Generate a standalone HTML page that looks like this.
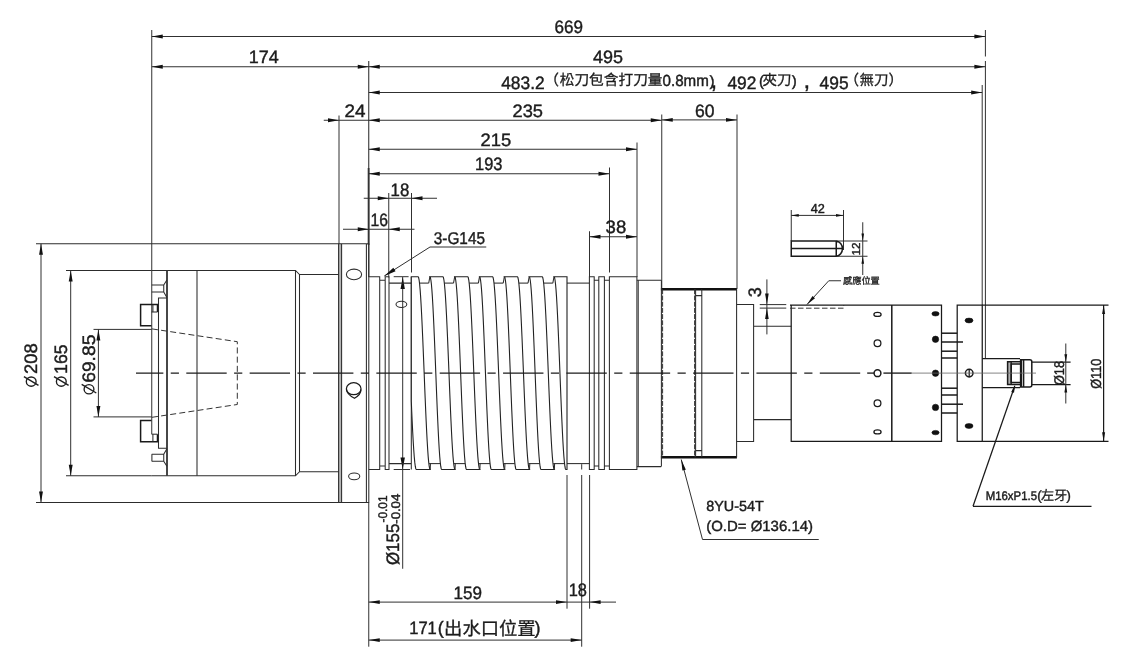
<!DOCTYPE html>
<html lang="zh-Hant"><head><meta charset="utf-8"><title>Spindle dimension drawing</title>
<style>
html,body{margin:0;padding:0;background:#fff;overflow:hidden}
svg{display:block;will-change:transform}
text{font-family:"Liberation Sans",sans-serif;fill:#1c1c1c;stroke:#1c1c1c;stroke-width:.42;text-rendering:geometricPrecision}
text.cj{font-family:"Liberation Sans","Noto Sans CJK TC",sans-serif;stroke-width:.3}
path,ellipse,circle{fill:none;stroke:#2e2e2e;stroke-width:1}
.d{stroke:#303030;stroke-width:1}
.n{stroke:#2c2c2c;stroke-width:1.05}
.m{stroke:#1a1a1a;stroke-width:1.25}
.t{stroke:#333;stroke-width:1.8}
.k{stroke:#1a1a1a;stroke-width:1.5}
.tt{stroke:#111;stroke-width:2.5}
.w{fill:#fff;stroke:#222;stroke-width:1.1}
.a{fill:#111;stroke:none}
.f{fill:#111;stroke:#111;stroke-width:.6}
text.b{stroke-width:.45}
.cl{stroke:#1c1c1c;stroke-width:1.35}
.l{stroke:#666;stroke-width:.8}
.ds{stroke:#333;stroke-width:1;stroke-dasharray:6 3.2}
.ds2{stroke:#333;stroke-width:1;stroke-dasharray:5.5 2.5}
.dot{stroke:#333;stroke-width:1;stroke-dasharray:5 1.2}
.p{stroke:#1c1c1c;stroke-width:1.35}
</style></head><body>
<svg width="1141" height="664" viewBox="0 0 1141 664">
<path class="d" d="M151.75 30L151.75 434"/>
<path class="d" d="M985.4 30L985.4 56.5"/>
<path class="d" d="M985.4 61L985.4 358.5"/>
<path class="d" d="M151.75 36.5L985.4 36.5"/>
<path class="a" d="M151.75 36.5L162.75 34.55L162.75 38.45Z"/>
<path class="a" d="M985.4 36.5L974.4 38.45L974.4 34.55Z"/>
<path class="d" d="M151.75 66.75L985.4 66.75"/>
<path class="a" d="M151.75 66.75L162.75 64.8L162.75 68.7Z"/>
<path class="a" d="M368.75 66.75L357.75 68.7L357.75 64.8Z"/>
<path class="a" d="M368.75 66.75L379.75 64.8L379.75 68.7Z"/>
<path class="a" d="M985.4 66.75L974.4 68.7L974.4 64.8Z"/>
<path class="n" d="M368.75 61L368.75 277"/>
<path class="t" d="M368.6 168L368.6 245"/>
<path class="d" d="M368.75 92.5L982.2 92.5"/>
<path class="a" d="M368.75 92.5L379.75 90.55L379.75 94.45Z"/>
<path class="a" d="M982.2 92.5L971.2 94.45L971.2 90.55Z"/>
<path class="d" d="M982.2 85L982.2 305"/>
<path class="d" d="M323.75 120.25L661.75 120.25"/>
<path class="a" d="M339 120.25L328 122.2L328 118.3Z"/>
<path class="a" d="M368.75 120.25L379.75 118.3L379.75 122.2Z"/>
<path class="a" d="M661.75 120.25L650.75 122.2L650.75 118.3Z"/>
<path class="d" d="M339 115.5L339 244"/>
<path class="d" d="M661.75 119.9L737 119.9"/>
<path class="a" d="M661.75 119.9L672.75 117.95L672.75 121.85Z"/>
<path class="a" d="M737 119.9L726 121.85L726 117.95Z"/>
<path class="d" d="M661.75 114.5L661.75 289"/>
<path class="d" d="M737 114.5L737 289"/>
<path class="d" d="M368.75 149.25L637 149.25"/>
<path class="a" d="M368.75 149.25L379.75 147.3L379.75 151.2Z"/>
<path class="a" d="M637 149.25L626 151.2L626 147.3Z"/>
<path class="d" d="M637 142.5L637 277"/>
<path class="d" d="M368.75 173.75L609.5 173.75"/>
<path class="a" d="M368.75 173.75L379.75 171.8L379.75 175.7Z"/>
<path class="a" d="M609.5 173.75L598.5 175.7L598.5 171.8Z"/>
<path class="d" d="M609.5 167.5L609.5 272.5"/>
<path class="d" d="M363.75 198.25L437 198.25"/>
<path class="a" d="M388.75 198.25L377.75 200.2L377.75 196.3Z"/>
<path class="a" d="M411.5 198.25L422.5 196.3L422.5 200.2Z"/>
<path class="d" d="M388.75 193L388.75 277.5"/>
<path class="d" d="M411.5 193L411.5 272.5"/>
<path class="d" d="M343 229.25L414.5 229.25"/>
<path class="a" d="M368.75 229.25L357.75 231.2L357.75 227.3Z"/>
<path class="a" d="M388.75 229.25L399.75 227.3L399.75 231.2Z"/>
<path class="d" d="M589.5 236.75L637 236.75"/>
<path class="a" d="M589.5 236.75L600.5 234.8L600.5 238.7Z"/>
<path class="a" d="M637 236.75L626 238.7L626 234.8Z"/>
<path class="d" d="M589.5 231.25L589.5 277"/>
<path class="d" d="M430 247L486.25 247"/>
<path class="d" d="M430 247L384.3 276"/>
<path class="a" d="M384.3 276L393.31 267.8L395.56 271.34Z"/>
<path class="d" d="M791.25 210L791.25 241"/>
<path class="d" d="M843.5 210L843.5 250"/>
<path class="d" d="M791.25 215.4L843.5 215.4"/>
<path class="a" d="M791.25 215.4L798.75 214.1L798.75 216.7Z"/>
<path class="a" d="M843.5 215.4L836 216.7L836 214.1Z"/>
<path class="d" d="M836.25 241L867.5 241"/>
<path class="d" d="M836.25 256.25L867.5 256.25"/>
<path class="d" d="M862.75 222.25L862.75 275"/>
<path class="a" d="M862.75 241L861.45 233.5L864.05 233.5Z"/>
<path class="a" d="M862.75 256.25L864.05 263.75L861.45 263.75Z"/>
<path class="k" d="M836.25 241H791.25V256.25H836.25M791.25 248.5H843.2M836.25 241V256.25M836.25 241A7.2 7.7 0 0 1 836.25 256.25"/>
<path class="d" d="M759.75 304.6L786.25 304.6"/>
<path class="d" d="M759.75 308.1L786.25 308.1"/>
<path class="d" d="M766.9 279.4L766.9 334.4"/>
<path class="a" d="M766.9 304.6L765.1 293.6L768.7 293.6Z"/>
<path class="a" d="M766.9 308.1L768.7 319.1L765.1 319.1Z"/>
<path class="n" d="M36 243.75L338.75 243.75"/>
<path class="n" d="M36 502.5L338.75 502.5"/>
<path class="d" d="M41 243.75L41 502.5"/>
<path class="a" d="M41 243.75L42.95 254.75L39.05 254.75Z"/>
<path class="a" d="M41 502.5L39.05 491.5L42.95 491.5Z"/>
<path class="n" d="M66 270.5L151.75 270.5"/>
<path class="n" d="M66 475.75L151.75 475.75"/>
<path class="d" d="M70.7 270.5L70.7 475.75"/>
<path class="a" d="M70.7 270.5L72.65 281.5L68.75 281.5Z"/>
<path class="a" d="M70.7 475.75L68.75 464.75L72.65 464.75Z"/>
<path class="d" d="M93.5 329.4L151.75 329.4"/>
<path class="d" d="M93.5 416.9L151.75 416.9"/>
<path class="d" d="M98.4 329.4L98.4 416.9"/>
<path class="a" d="M98.4 329.4L100.35 340.4L96.45 340.4Z"/>
<path class="a" d="M98.4 416.9L96.45 405.9L100.35 405.9Z"/>
<path class="d" d="M402.7 277L402.7 568.75"/>
<path class="a" d="M402.7 277L404.9 289L400.5 289Z"/>
<path class="a" d="M402.7 469.5L400.5 457.5L404.9 457.5Z"/>
<path class="d" d="M393.7 276.7L408.6 276.7"/>
<path class="d" d="M393.7 469.5L410 469.5"/>
<path class="d" d="M368.75 502.5L368.75 646.7"/>
<path class="d" d="M567 475L567 608.7"/>
<path class="d" d="M581.7 464.2L581.7 469.5"/>
<path class="d" d="M581.7 475L581.7 646.7"/>
<path class="d" d="M589.6 475L589.6 608.7"/>
<path class="d" d="M368.75 602.1L616 602.1"/>
<path class="a" d="M368.75 602.1L379.75 600.15L379.75 604.05Z"/>
<path class="a" d="M567 602.1L556 604.05L556 600.15Z"/>
<path class="a" d="M589.6 602.1L600.6 600.15L600.6 604.05Z"/>
<path class="d" d="M368.75 640.1L581.7 640.1"/>
<path class="a" d="M368.75 640.1L379.75 638.15L379.75 642.05Z"/>
<path class="a" d="M581.7 640.1L570.7 642.05L570.7 638.15Z"/>
<path class="d" d="M681.25 459.5L702.5 539.5"/>
<path class="d" d="M702.5 539.5L818.75 539.5"/>
<path class="a" d="M681.25 459.5L685.84 469.66L682.36 470.59Z"/>
<path class="m" d="M1014.75 386L973 506.25"/>
<path class="m" d="M973 506.25L1091.5 506.25"/>
<path class="a" d="M1015.2 384.8L1014.01 392.85L1011.18 391.88Z"/>
<path class="d" d="M828.75 280.75L841 280.75"/>
<path class="d" d="M828.75 280.75L807 304.5"/>
<path class="a" d="M807 304.5L812.5 295.98L815.01 298.28Z"/>
<path class="m" d="M1032 362.2L1070.6 362.2"/>
<path class="m" d="M1032 384.6L1070.6 384.6"/>
<path class="d" d="M1065.8 343.5L1065.8 403.5"/>
<path class="a" d="M1065.8 362.2L1064.4 354.2L1067.2 354.2Z"/>
<path class="a" d="M1065.8 384.6L1067.2 392.6L1064.4 392.6Z"/>
<path class="m" d="M982.25 305L1108.5 305"/>
<path class="m" d="M982.25 441.25L1108.5 441.25"/>
<path class="m" d="M1103.6 305L1103.6 441.25"/>
<path class="a" d="M1103.6 305L1105.1 314L1102.1 314Z"/>
<path class="a" d="M1103.6 441.25L1102.1 432.25L1105.1 432.25Z"/>
<rect x="338.6" y="243.75" width="3" height="258.75" fill="#b4b4b4"/>
<path class="n" d="M338.6 243.75H368.8V502.5H338.6ZM341.6 243.75V502.5M366.4 243.75V502.5"/>
<path class="n" d="M151.75 270.5H295.5L299.5 274.5H338.6M151.75 475.75H295.5L299.5 471.75H338.6"/>
<path class="n" d="M197 270.5V475.75M295.5 270.5V475.75M299.5 274.5V471.75"/>
<path class="t" d="M167 270.5L167 475.75"/>
<path class="n" d="M151.75 285H163.75V292H151.75M163.75 285L166.9 280M163.75 292L166.9 297.5"/>
<path class="n" d="M166.9 298H158.5V373.1"/>
<path class="k" d="M151.5 325.8H140.6V304.4H157.5V312"/>
<path class="n" d="M151.5 312H157.5"/>
<path class="n" d="M152.9 304.4L152.9 312"/>
<path class="ds" d="M152 328.9L237.3 341.7V373.1"/>
<path class="n" d="M151.75 461.2H163.75V454.2H151.75M163.75 461.2L166.9 466.2M163.75 454.2L166.9 448.7"/>
<path class="n" d="M151.9 461.2L151.9 454.2"/>
<path class="n" d="M166.9 448.2H158.5V373.1"/>
<path class="k" d="M151.5 420.4H140.6V441.8H157.5V434.2"/>
<path class="n" d="M151.5 434.2H157.5"/>
<path class="n" d="M152.9 441.8L152.9 434.2"/>
<path class="ds" d="M152 417.3L237.3 404.5V373.1"/>
<ellipse class="n" cx="354" cy="274.4" rx="7.6" ry="5.3"/>
<ellipse class="m" cx="353.7" cy="388.7" rx="7.3" ry="6"/>
<path class="m" d="M346.4 389.5Q347 394.5 354.5 398.3Q361 394.5 361 389.5"/>
<ellipse class="n" cx="354.2" cy="476.3" rx="5.6" ry="3.4"/>
<path class="n" d="M368.8 276.7H379.7V469.5H368.8M379.7 280.3H385.2M379.7 465.9H385.2M385.2 276.7H389V469.5H385.2Z"/>
<path class="n" d="M389 283.1H411.3M389 463.6H411.3M411.3 276.7V469.5"/>
<path class="n" d="M567 283.1L589.4 283.1"/>
<path class="n" d="M567 463.6L589.4 463.6"/>
<path class="w" d="M411.3 276.7L411.3 401L411.65 409.99L412.17 421.3L412.68 431.78L413.2 441.27L413.72 449.58L414.23 456.58L414.75 462.16L415.27 466.22L415.78 468.68L416.3 469.5L430.2 469.5L429.7 468.68L429.19 466.22L428.69 462.16L428.18 456.58L427.68 449.58L427.18 441.27L426.67 431.78L426.17 421.3L425.66 409.99L425.16 398.05L424.65 385.68L424.15 373.1L423.65 360.52L423.14 348.15L422.64 336.21L422.13 324.9L421.63 314.42L421.12 304.93L420.62 296.62L420.12 289.62L419.61 284.04L419.11 279.98L418.6 277.52L418.1 276.7Z"/>
<path class="n" d="M419.51 283.1L428.7 283.1"/>
<path class="n" d="M429.05 463.6L440.38 463.6"/>
<path class="n" d="M428.7 283.1L429.9 276.7"/>
<path class="n" d="M430.45 463.6L430.2 469.5"/>
<path class="w" d="M429.9 276.7L430.39 277.52L430.88 279.98L431.38 284.04L431.87 289.62L432.36 296.62L432.85 304.93L433.34 314.42L433.83 324.9L434.32 336.21L434.82 348.15L435.31 360.52L435.8 373.1L436.29 385.68L436.78 398.05L437.27 409.99L437.77 421.3L438.26 431.78L438.75 441.27L439.24 449.58L439.73 456.58L440.22 462.16L440.72 466.22L441.21 468.68L441.7 469.5L455.03 469.5L454.53 468.68L454.02 466.22L453.52 462.16L453.01 456.58L452.51 449.58L452 441.27L451.5 431.78L451 421.3L450.49 409.99L449.99 398.05L449.48 385.68L448.98 373.1L448.48 360.52L447.97 348.15L447.47 336.21L446.96 324.9L446.46 314.42L445.95 304.93L445.45 296.62L444.95 289.62L444.44 284.04L443.94 279.98L443.43 277.52L442.93 276.7Z"/>
<path class="n" d="M444.34 283.1L453.53 283.1"/>
<path class="n" d="M453.88 463.6L465.21 463.6"/>
<path class="n" d="M453.53 283.1L454.73 276.7"/>
<path class="n" d="M455.28 463.6L455.03 469.5"/>
<path class="w" d="M454.73 276.7L455.22 277.52L455.71 279.98L456.2 284.04L456.7 289.62L457.19 296.62L457.68 304.93L458.17 314.42L458.66 324.9L459.15 336.21L459.65 348.15L460.14 360.52L460.63 373.1L461.12 385.68L461.61 398.05L462.1 409.99L462.6 421.3L463.09 431.78L463.58 441.27L464.07 449.58L464.56 456.58L465.05 462.16L465.55 466.22L466.04 468.68L466.53 469.5L479.86 469.5L479.36 468.68L478.85 466.22L478.35 462.16L477.84 456.58L477.34 449.58L476.83 441.27L476.33 431.78L475.83 421.3L475.32 409.99L474.82 398.05L474.31 385.68L473.81 373.1L473.31 360.52L472.8 348.15L472.3 336.21L471.79 324.9L471.29 314.42L470.78 304.93L470.28 296.62L469.78 289.62L469.27 284.04L468.77 279.98L468.26 277.52L467.76 276.7Z"/>
<path class="n" d="M469.17 283.1L478.36 283.1"/>
<path class="n" d="M478.71 463.6L490.04 463.6"/>
<path class="n" d="M478.36 283.1L479.56 276.7"/>
<path class="n" d="M480.11 463.6L479.86 469.5"/>
<path class="w" d="M479.56 276.7L480.05 277.52L480.54 279.98L481.03 284.04L481.53 289.62L482.02 296.62L482.51 304.93L483 314.42L483.49 324.9L483.98 336.21L484.48 348.15L484.97 360.52L485.46 373.1L485.95 385.68L486.44 398.05L486.93 409.99L487.43 421.3L487.92 431.78L488.41 441.27L488.9 449.58L489.39 456.58L489.88 462.16L490.38 466.22L490.87 468.68L491.36 469.5L504.69 469.5L504.19 468.68L503.68 466.22L503.18 462.16L502.67 456.58L502.17 449.58L501.67 441.27L501.16 431.78L500.66 421.3L500.15 409.99L499.65 398.05L499.14 385.68L498.64 373.1L498.14 360.52L497.63 348.15L497.13 336.21L496.62 324.9L496.12 314.42L495.62 304.93L495.11 296.62L494.61 289.62L494.1 284.04L493.6 279.98L493.09 277.52L492.59 276.7Z"/>
<path class="n" d="M494 283.1L503.19 283.1"/>
<path class="n" d="M503.54 463.6L514.87 463.6"/>
<path class="n" d="M503.19 283.1L504.39 276.7"/>
<path class="n" d="M504.94 463.6L504.69 469.5"/>
<path class="w" d="M504.39 276.7L504.88 277.52L505.37 279.98L505.87 284.04L506.36 289.62L506.85 296.62L507.34 304.93L507.83 314.42L508.32 324.9L508.81 336.21L509.31 348.15L509.8 360.52L510.29 373.1L510.78 385.68L511.27 398.05L511.76 409.99L512.26 421.3L512.75 431.78L513.24 441.27L513.73 449.58L514.22 456.58L514.72 462.16L515.21 466.22L515.7 468.68L516.19 469.5L529.52 469.5L529.02 468.68L528.51 466.22L528.01 462.16L527.5 456.58L527 449.58L526.5 441.27L525.99 431.78L525.49 421.3L524.98 409.99L524.48 398.05L523.97 385.68L523.47 373.1L522.97 360.52L522.46 348.15L521.96 336.21L521.45 324.9L520.95 314.42L520.45 304.93L519.94 296.62L519.44 289.62L518.93 284.04L518.43 279.98L517.92 277.52L517.42 276.7Z"/>
<path class="n" d="M518.83 283.1L528.02 283.1"/>
<path class="n" d="M528.37 463.6L539.7 463.6"/>
<path class="n" d="M528.02 283.1L529.22 276.7"/>
<path class="n" d="M529.77 463.6L529.52 469.5"/>
<path class="w" d="M529.22 276.7L529.71 277.52L530.2 279.98L530.7 284.04L531.19 289.62L531.68 296.62L532.17 304.93L532.66 314.42L533.15 324.9L533.64 336.21L534.14 348.15L534.63 360.52L535.12 373.1L535.61 385.68L536.1 398.05L536.6 409.99L537.09 421.3L537.58 431.78L538.07 441.27L538.56 449.58L539.05 456.58L539.55 462.16L540.04 466.22L540.53 468.68L541.02 469.5L554.35 469.5L553.85 468.68L553.34 466.22L552.84 462.16L552.33 456.58L551.83 449.58L551.33 441.27L550.82 431.78L550.32 421.3L549.81 409.99L549.31 398.05L548.8 385.68L548.3 373.1L547.8 360.52L547.29 348.15L546.79 336.21L546.28 324.9L545.78 314.42L545.27 304.93L544.77 296.62L544.27 289.62L543.76 284.04L543.26 279.98L542.75 277.52L542.25 276.7Z"/>
<path class="n" d="M543.66 283.1L552.85 283.1"/>
<path class="n" d="M553.2 463.6L564.53 463.6"/>
<path class="n" d="M552.85 283.1L554.05 276.7"/>
<path class="n" d="M554.6 463.6L554.35 469.5"/>
<path class="w" d="M554.05 276.7L554.54 277.52L555.03 279.98L555.52 284.04L556.02 289.62L556.51 296.62L557 304.93L557.49 314.42L557.98 324.9L558.47 336.21L558.97 348.15L559.46 360.52L559.95 373.1L560.44 385.68L560.93 398.05L561.42 409.99L561.92 421.3L562.41 431.78L562.9 441.27L563.39 449.58L563.88 456.58L564.38 462.16L564.87 466.22L565.36 468.68L565.85 469.5L567 469.5L567 276.7Z"/>
<path class="n" d="M589.4 276.7H594.2V469.5H589.4ZM594.2 280.2H598.8M594.2 466H598.8M598.8 276.7H604.4V469.5H598.8ZM604.4 280.2H609.4M604.4 466H609.4M609.4 469.5V276.7H636.9V469.5Z"/>
<path class="n" d="M638.2 280.2L638.2 466.6"/>
<path class="n" d="M636.9 280.2H661.2M636.9 466.6H661.2"/>
<ellipse class="n" cx="401.4" cy="304.3" rx="5.4" ry="3.1"/>
<path class="tt" d="M660.9 289.3L736.9 289.3"/>
<path class="tt" d="M660.9 457.3L736.9 457.3"/>
<path class="n" d="M661.4 280.2L661.4 466.6"/>
<path class="dot" d="M662.6 289.3L662.6 457.3"/>
<path class="dot" d="M694.6 289.3L694.6 457.3"/>
<path class="n" d="M695.6 289.3V457.3M701.8 289.3V457.3M695.6 295.6H701.8M695.6 450.6H701.8M736.6 289.3V457.3"/>
<path class="n" d="M736.6 304.5H753.6V441.4H736.6M753.6 326.2H791.2M753.6 419.6H791.2"/>
<path class="m" d="M790 305H941.5V441.25H791.2V305"/>
<path class="k" d="M891.8 305L891.8 441.25"/>
<path class="ds2" d="M790 308.2H843.75V305"/>
<ellipse class="m" cx="877.5" cy="314.4" rx="3.6" ry="2"/>
<circle class="m" cx="877.5" cy="343.3" r="3.4"/>
<circle class="k" cx="877.5" cy="373.2" r="3.4"/>
<circle class="m" cx="877.5" cy="403.3" r="3.4"/>
<ellipse class="m" cx="877.5" cy="431.9" rx="3.6" ry="2"/>
<ellipse class="f" cx="935.5" cy="313.8" rx="3.6" ry="2.2"/>
<circle class="f" cx="935.5" cy="339.3" r="3.2"/>
<circle class="f" cx="935.5" cy="373.2" r="3.2"/>
<circle class="f" cx="935.5" cy="407.4" r="3.2"/>
<ellipse class="f" cx="935.5" cy="432.6" rx="3.6" ry="2.2"/>
<path class="k" d="M941.5 333.2L957.2 333.2"/>
<path class="k" d="M941.5 413L957.2 413"/>
<path class="k" d="M941.5 342L963 342"/>
<path class="k" d="M941.5 404.2L963 404.2"/>
<path class="k" d="M941.5 351.2L957.2 351.2"/>
<path class="k" d="M941.5 395L957.2 395"/>
<path class="k" d="M941.5 358L957.2 358"/>
<path class="k" d="M941.5 388.2L957.2 388.2"/>
<path class="m" d="M957.2 305H982.25V441.25H957.2Z"/>
<ellipse class="f" cx="969" cy="320.5" rx="4" ry="2.4"/>
<ellipse class="f" cx="969" cy="426" rx="4" ry="2.4"/>
<circle class="k" cx="969.2" cy="373.1" r="3.8"/>
<path class="m" d="M969.2 369.3L969.2 376.9"/>
<path class="m" d="M982.25 358.5H1020M982.25 387.6H1020"/>
<rect x="1007.6" y="361.8" width="3.6" height="22.6" fill="#b0b0b0"/>
<path class="k" d="M1020 361.8H1007.6V384.4H1020"/>
<path class="k" d="M1020.2 364H1011.2V382.6H1020.2"/>
<path class="m" d="M1011.2 361.8L1011.2 384.4"/>
<path class="k" d="M1020.6 359.8H1029.8Q1031.8 359.8 1031.8 361.8V384.9Q1031.8 386.9 1029.8 386.9H1020.6ZM1023.6 359.8V386.9"/>
<path class="k" d="M1021.4 359.8L1021.4 386.9"/>
<path class="cl" d="M136 373.1H868" stroke-dasharray="40.4 7.4 8.2 7.35" stroke-dashoffset="13.05"/>
<path class="cl" d="M867.4 373.1L874 373.1"/>
<path class="cl" d="M883.4 373.1L911.7 373.1"/>
<path class="l" d="M911.7 373.1L1036 373.1"/>
<text x="568.8" y="32.5" font-size="18" text-anchor="middle" textLength="28.5" lengthAdjust="spacingAndGlyphs">669</text>
<text x="263.75" y="63" font-size="18" text-anchor="middle" textLength="30" lengthAdjust="spacingAndGlyphs">174</text>
<text x="608" y="62.5" font-size="18" text-anchor="middle" textLength="30" lengthAdjust="spacingAndGlyphs">495</text>
<text x="501.2" y="88.8" font-size="18" textLength="43.5" lengthAdjust="spacingAndGlyphs">483.2</text>
<text class="cj" x="544.3" y="85.4" font-size="14.7">（</text>
<text class="cj" x="559.7" y="85.4" font-size="14.7" textLength="102.9" lengthAdjust="spacingAndGlyphs">松刀包含打刀量</text>
<text x="662.5" y="86.2" font-size="16" textLength="46.3" lengthAdjust="spacingAndGlyphs">0.8mm</text>
<text x="709.4" y="85.6" font-size="15">)</text>
<text x="710.4" y="88" font-size="24">,</text>
<text x="727.4" y="88.8" font-size="18" textLength="29" lengthAdjust="spacingAndGlyphs">492</text>
<text x="759" y="85.6" font-size="15">(</text>
<text class="cj" x="762.5" y="85.4" font-size="14.5" textLength="29" lengthAdjust="spacingAndGlyphs">夾刀</text>
<text x="791.7" y="85.6" font-size="15">)</text>
<text x="803.4" y="88" font-size="24">,</text>
<text x="819.6" y="88.8" font-size="18" textLength="29" lengthAdjust="spacingAndGlyphs">495</text>
<text class="cj" x="844.4" y="85.4" font-size="14.5">（</text>
<text class="cj" x="859.4" y="85.4" font-size="14.5" textLength="29" lengthAdjust="spacingAndGlyphs">無刀</text>
<text class="cj" x="888.6" y="85.4" font-size="14.5">）</text>
<text x="355" y="116.5" font-size="18" text-anchor="middle" textLength="21" lengthAdjust="spacingAndGlyphs">24</text>
<text x="527.75" y="116.5" font-size="18" text-anchor="middle" textLength="30.5" lengthAdjust="spacingAndGlyphs">235</text>
<text x="704.75" y="116.5" font-size="18" text-anchor="middle" textLength="19.5" lengthAdjust="spacingAndGlyphs">60</text>
<text x="495.9" y="145.5" font-size="18" text-anchor="middle" textLength="30.7" lengthAdjust="spacingAndGlyphs">215</text>
<text x="488.75" y="170" font-size="18" text-anchor="middle" textLength="27.5" lengthAdjust="spacingAndGlyphs">193</text>
<text x="399.9" y="195.5" font-size="18" text-anchor="middle" textLength="18.7" lengthAdjust="spacingAndGlyphs">18</text>
<text x="379.25" y="225.5" font-size="18" text-anchor="middle" textLength="17.5" lengthAdjust="spacingAndGlyphs">16</text>
<text x="615.9" y="233" font-size="18" text-anchor="middle" textLength="20.7" lengthAdjust="spacingAndGlyphs">38</text>
<text x="433.75" y="243.75" font-size="17" textLength="51.2" lengthAdjust="spacingAndGlyphs">3-G145</text>
<text x="817.7" y="213.1" font-size="13" text-anchor="middle" textLength="14.1" lengthAdjust="spacingAndGlyphs">42</text>
<text x="860" y="249" font-size="11.5" text-anchor="middle" textLength="13" lengthAdjust="spacingAndGlyphs" transform="rotate(-90 860 249)">12</text>
<text x="761.2" y="292.3" font-size="18" text-anchor="middle" transform="rotate(-90 761.2 292.3)">3</text>
<text class="cj" x="843" y="283.6" font-size="9.2" textLength="36.8" lengthAdjust="spacingAndGlyphs">感應位置</text>
<text x="706.25" y="510.5" font-size="14.6" textLength="57.5" lengthAdjust="spacingAndGlyphs">8YU-54T</text>
<text x="706.25" y="530.75" font-size="14.6" textLength="106.75" lengthAdjust="spacingAndGlyphs">(O.D= Ø136.14)</text>
<text x="985.7" y="499.5" font-size="12.5" textLength="51.3" lengthAdjust="spacingAndGlyphs" class="b">M16xP1.5</text>
<text x="1037.2" y="499.5" font-size="13">(</text>
<text class="cj" x="1041" y="499.8" font-size="13.1" textLength="26.2" lengthAdjust="spacingAndGlyphs">左牙</text>
<text x="1066.6" y="499.5" font-size="13">)</text>
<text x="467.7" y="599.2" font-size="18" text-anchor="middle" textLength="28.5" lengthAdjust="spacingAndGlyphs">159</text>
<text x="577.8" y="595.7" font-size="18" text-anchor="middle" textLength="18.3" lengthAdjust="spacingAndGlyphs">18</text>
<text x="409.2" y="633.7" font-size="18" textLength="27.6" lengthAdjust="spacingAndGlyphs">171</text>
<text x="437.8" y="633.7" font-size="18">(</text>
<text class="cj" x="444.1" y="634.6" font-size="18.3" textLength="91.5" lengthAdjust="spacingAndGlyphs">出水口位置</text>
<text x="534.6" y="633.7" font-size="18">)</text>
<g transform="translate(37.2 388) rotate(-90)"><ellipse class="p" cx="6.4" cy="-6" rx="4.6" ry="4.9"/><path class="p" d="M2.6 1.3L11.3 -13.3"/></g>
<text x="37.2" y="373.9" font-size="18" textLength="30.7" lengthAdjust="spacingAndGlyphs" transform="rotate(-90 37.2 373.9)">208</text>
<g transform="translate(67.3 388) rotate(-90)"><ellipse class="p" cx="6.4" cy="-6" rx="4.6" ry="4.9"/><path class="p" d="M2.6 1.3L11.3 -13.3"/></g>
<text x="67.3" y="373.9" font-size="18" textLength="29.5" lengthAdjust="spacingAndGlyphs" transform="rotate(-90 67.3 373.9)">165</text>
<g transform="translate(95 395.6) rotate(-90)"><ellipse class="p" cx="6.4" cy="-6" rx="4.6" ry="4.9"/><path class="p" d="M2.6 1.3L11.3 -13.3"/></g>
<text x="95" y="382.8" font-size="18" textLength="48.2" lengthAdjust="spacingAndGlyphs" transform="rotate(-90 95 382.8)">69.85</text>
<text x="398.8" y="565" font-size="18" textLength="41.3" lengthAdjust="spacingAndGlyphs" transform="rotate(-90 398.8 565)">Ø155</text>
<text x="386.7" y="522.5" font-size="12.5" textLength="27" lengthAdjust="spacingAndGlyphs" transform="rotate(-90 386.7 522.5)">-0.01</text>
<text x="400" y="523.75" font-size="12.5" textLength="30" lengthAdjust="spacingAndGlyphs" transform="rotate(-90 400 523.75)">-0.04</text>
<text x="1063.5" y="385" font-size="14" textLength="24" lengthAdjust="spacingAndGlyphs" transform="rotate(-90 1063.5 385)">Ø18</text>
<text x="1101.2" y="388.75" font-size="14.5" textLength="30" lengthAdjust="spacingAndGlyphs" transform="rotate(-90 1101.2 388.75)">Ø110</text>
</svg>
</body></html>
